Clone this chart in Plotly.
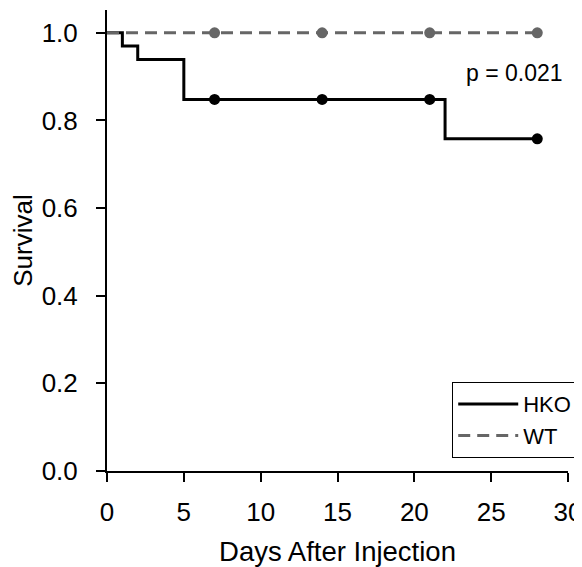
import plotly.graph_objects as go

# Kaplan-Meier data
hko_time = [0, 1, 2, 5, 22, 28]
hko_surv = [1.0, 0.970, 0.939, 0.848, 0.758, 0.758]
hko_cens_time = [7, 14, 21, 28]
hko_cens_surv = [0.848, 0.848, 0.848, 0.758]

wt_time = [0, 28]
wt_surv = [1.0, 1.0]
wt_cens_time = [7, 14, 21, 28]
wt_cens_surv = [1.0, 1.0, 1.0, 1.0]

x_ticks = [0, 5, 10, 15, 20, 25, 30]
y_ticks = [0.0, 0.2, 0.4, 0.6, 0.8, 1.0]
y_tick_labels = ["0.0", "0.2", "0.4", "0.6", "0.8", "1.0"]
p_text = "p = 0.021"

FONT = "Liberation Sans, Arial, sans-serif"
GRAY = "#666666"

fig = go.Figure()
fig.add_trace(go.Scatter(x=hko_time, y=hko_surv, mode="lines", line_shape="hv",
                         line=dict(color="black", width=3), name="HKO"))
fig.add_trace(go.Scatter(x=wt_time, y=wt_surv, mode="lines",
                         line=dict(color=GRAY, width=3, dash="12px,7px"), name="WT"))
fig.add_trace(go.Scatter(x=hko_cens_time, y=hko_cens_surv, mode="markers",
                         marker=dict(color="black", size=11), showlegend=False))
fig.add_trace(go.Scatter(x=wt_cens_time, y=wt_cens_surv, mode="markers",
                         marker=dict(color=GRAY, size=11), showlegend=False))

fig.add_annotation(x=29.8, y=0.908, xref="x", yref="y", text=p_text, showarrow=False,
                   xanchor="right", yanchor="middle", font=dict(size=23, color="black", family=FONT))

# page body has an 8px default margin; the figure is sized so the plot area
# lands where the reference has it and the last tick label reaches the window edge
fig.update_layout(
    width=582, height=559,
    margin=dict(l=99, r=22, t=2, b=96),
    paper_bgcolor="white", plot_bgcolor="white",
    font=dict(family=FONT, color="black", size=26),
    xaxis=dict(range=[0, 30], tickvals=x_ticks, showgrid=False, zeroline=False,
               showline=True, linecolor="black", linewidth=2, automargin=False,
               ticks="outside", ticklen=9, tickwidth=2, tickcolor="black",
               tickfont=dict(size=26), ticklabelstandoff=8, ticklabeloverflow="allow",
               title=dict(text="Days After Injection", font=dict(size=27.5), standoff=17)),
    yaxis=dict(range=[0, 1.052], tickvals=y_ticks, ticktext=y_tick_labels, showgrid=False,
               zeroline=False, showline=True, linecolor="black", linewidth=2, automargin=False,
               ticks="outside", ticklen=9, tickwidth=2, tickcolor="black",
               tickfont=dict(size=26), ticklabelstandoff=13, ticklabeloverflow="allow",
               title=dict(text="Survival", font=dict(size=26), standoff=5)),
    legend=dict(x=1.02, y=0.028, xanchor="right", yanchor="bottom",
                bordercolor="black", borderwidth=1, bgcolor="white",
                font=dict(size=22), itemwidth=60, tracegroupgap=0),
)

fig.write_html("out.html", config={"displayModeBar": False})
